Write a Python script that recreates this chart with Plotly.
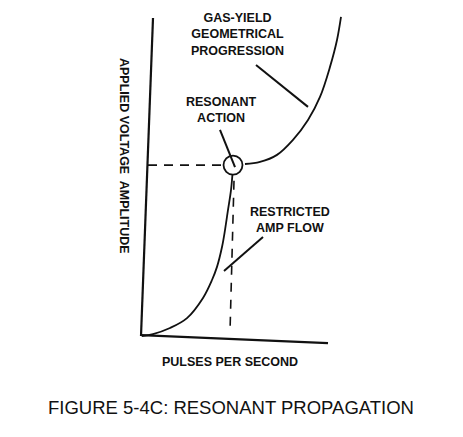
import plotly.graph_objects as go

# lower branch: restricted amp flow, rising into the resonance point
flow_x = [0.05, 0.6, 1.45, 2.3, 3.1, 3.55, 3.8, 4.05, 4.2, 4.35, 4.5, 4.57]
flow_y = [0.0, 0.06, 0.25, 0.56, 1.19, 1.75, 2.16, 2.78, 3.31, 3.94, 4.56, 5.03]

# upper branch: gas-yield geometrical progression
gas_x = [5.2, 5.95, 6.8, 7.6, 8.35, 8.95, 9.45, 9.8, 10.0]
gas_y = [5.375, 5.44, 5.66, 6.13, 6.75, 7.47, 8.41, 9.25, 9.97]

# resonance point and its dashed guides
resonance_x = [4.6]
resonance_y = [5.34]
guide_h_x = [0.35, 4.15]
guide_v_x = [4.65, 4.45]
guide_v_y = [4.85, 0.12]

# leader lines from the callout labels
leader_gas_x, leader_gas_y = [5.75, 8.35], [8.47, 7.16]
leader_res_x, leader_res_y = [3.95, 4.7], [6.44, 5.28]
leader_amp_x, leader_amp_y = [6.1, 4.15], [3.09, 2.03]

# hand drawn axes (slightly skewed like the scan)
y_axis_x, y_axis_y = [0.6, 0.0], [9.94, 0.0]
x_axis_x, x_axis_y = [0.0, 9.35], [0.03, -0.22]

labels = ["GAS-YIELD<br>GEOMETRICAL<br>PROGRESSION", "RESONANT<br>ACTION", "RESTRICTED<br>AMP FLOW"]
label_x = [4.8, 4.0, 7.47]
label_y = [9.41, 7.06, 3.625]

x_title = "PULSES PER SECOND"
y_title = "APPLIED VOLTAGE  AMPLITUDE"
fig_title = "FIGURE 5-4C: RESONANT PROPAGATION"

ink = "#111111"
fig = go.Figure()


def add_line(x, y, width=1.8, dash="solid", shape="linear"):
    fig.add_trace(go.Scatter(x=x, y=y, mode="lines", line=dict(color=ink, width=width, dash=dash, shape=shape),
                             hoverinfo="skip", showlegend=False))


add_line(y_axis_x, y_axis_y, width=2.2)
add_line(x_axis_x, x_axis_y, width=2.2)
add_line(flow_x, flow_y, width=1.8, shape="spline")
add_line(gas_x, gas_y, width=1.8, shape="spline")
add_line(guide_h_x, [resonance_y[0]] * 2, width=1.6, dash="9px,7px")
add_line(guide_v_x, guide_v_y, width=1.6, dash="9px,8px")
add_line(leader_gas_x, leader_gas_y, width=2)
add_line(leader_res_x, leader_res_y, width=2)
add_line(leader_amp_x, leader_amp_y, width=2)

fig.add_trace(go.Scatter(x=resonance_x, y=resonance_y, mode="markers",
                         marker=dict(symbol="circle-open", size=19, color=ink, line=dict(width=1.8)),
                         hoverinfo="skip", showlegend=False))

bold = dict(family="Liberation Sans", size=12.5, color=ink)
for text, x, y in zip(labels, label_x, label_y):
    fig.add_annotation(x=x, y=y, text="<b>" + text + "</b>", showarrow=False, font=bold, align="center")

fig.add_annotation(x=4.45, y=-0.81, text="<b>" + x_title + "</b>", showarrow=False, font=bold)
fig.add_annotation(x=-0.85, y=5.625, text="<b>" + y_title + "</b>", showarrow=False, font=bold, textangle=90)
fig.add_annotation(x=4.5, y=-2.22, text=fig_title, showarrow=False,
                   font=dict(family="Liberation Sans", size=18.5, color=ink))

# the sheet is the whole canvas: 20 px per unit across, 32 px per unit up
fig.update_xaxes(range=[-7.05, 16.1], visible=False)
fig.update_yaxes(range=[-3.156, 10.5], visible=False)
fig.update_layout(width=463, height=437, margin=dict(l=0, r=0, t=0, b=0),
                  paper_bgcolor="white", plot_bgcolor="white")

fig.write_html("out.html", config={"displayModeBar": False},
               post_script="document.body.style.margin = '0px';")
